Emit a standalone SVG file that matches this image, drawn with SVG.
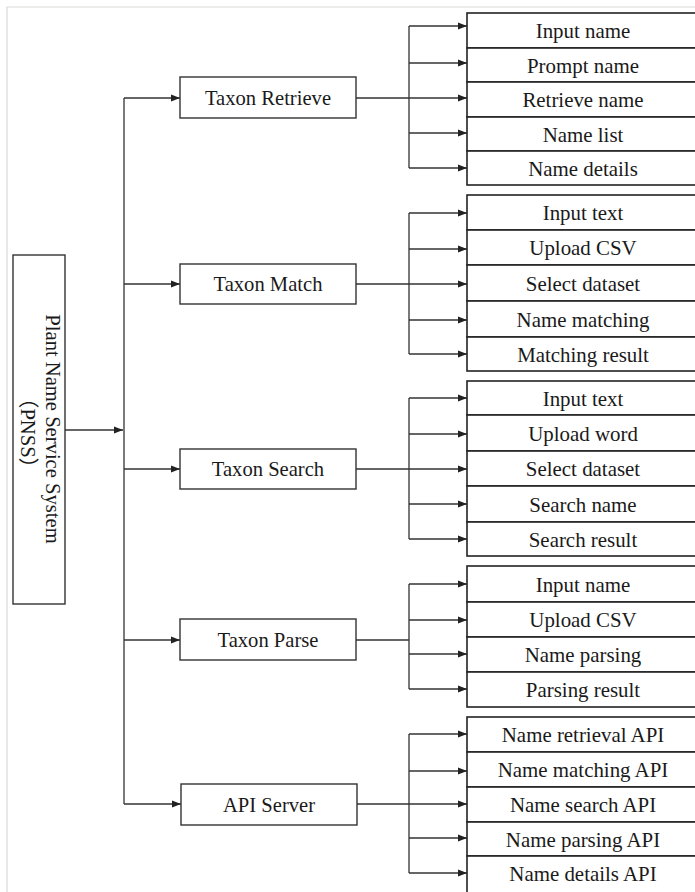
<svg xmlns="http://www.w3.org/2000/svg" width="695" height="892" viewBox="0 0 695 892">
<defs>
<marker id="ah" markerWidth="10" markerHeight="8" refX="9" refY="4" orient="auto" markerUnits="userSpaceOnUse">
<path d="M0,0.5 L9,4 L0,7.5 Z" fill="#222"/>
</marker>
<style>
.bx{fill:#fff;stroke:#333;stroke-width:1.4}
.sb{fill:#fff;stroke:#222;stroke-width:1.6}
.ln{fill:none;stroke:#333;stroke-width:1.3}
.ar{fill:none;stroke:#333;stroke-width:1.3;marker-end:url(#ah)}
.t1{font-family:"Liberation Serif","Times New Roman",serif;font-size:20.6px;fill:#1a1a1a;text-anchor:middle}
.t2{font-family:"Liberation Serif","Times New Roman",serif;font-size:20.9px;fill:#1a1a1a;text-anchor:middle}
.t3{font-family:"Liberation Serif","Noto Sans CJK SC",serif;font-size:20.6px;fill:#1a1a1a;text-anchor:middle}
</style>
</defs>
<rect width="695" height="892" fill="#fff"/>
<path d="M7,892 V7 H695" fill="none" stroke="#d9d9d6" stroke-width="1.2"/>

<g id="connectors">
<path class="ar" d="M65,430 H123"/>
<path class="ln" d="M124,98 V804"/>
<path class="ar" d="M124,98 H180"/>
<path class="ar" d="M124,284 H180"/>
<path class="ar" d="M124,469 H180"/>
<path class="ar" d="M124,640 H180"/>
<path class="ar" d="M124,804 H181"/>
<!-- group 1 -->
<path class="ln" d="M356,98 H409 M409,26 V168"/>
<path class="ar" d="M409,26 H467"/>
<path class="ar" d="M409,63 H467"/>
<path class="ar" d="M409,98 H467"/>
<path class="ar" d="M409,133 H467"/>
<path class="ar" d="M409,168 H467"/>
<!-- group 2 -->
<path class="ln" d="M356,284 H409 M409,213 V354"/>
<path class="ar" d="M409,213 H467"/>
<path class="ar" d="M409,249 H467"/>
<path class="ar" d="M409,284 H467"/>
<path class="ar" d="M409,320 H467"/>
<path class="ar" d="M409,354 H467"/>
<!-- group 3 -->
<path class="ln" d="M356,469 H409 M409,398 V539"/>
<path class="ar" d="M409,398 H467"/>
<path class="ar" d="M409,434 H467"/>
<path class="ar" d="M409,469 H467"/>
<path class="ar" d="M409,504 H467"/>
<path class="ar" d="M409,539 H467"/>
<!-- group 4 -->
<path class="ln" d="M356,640 H409 M409,584 V689"/>
<path class="ar" d="M409,584 H467"/>
<path class="ar" d="M409,620 H467"/>
<path class="ar" d="M409,654 H467"/>
<path class="ar" d="M409,689 H467"/>
<!-- group 5 -->
<path class="ln" d="M357,804 H409 M409,734 V873"/>
<path class="ar" d="M409,734 H467"/>
<path class="ar" d="M409,771 H467"/>
<path class="ar" d="M409,804 H467"/>
<path class="ar" d="M409,838 H467"/>
<path class="ar" d="M409,873 H467"/>
</g>

<g id="pnss">
<rect class="bx" x="13" y="255" width="52" height="349"/>
<text class="t3" transform="translate(46,429) rotate(90)">Plant Name Service System</text>
<text class="t3" transform="translate(21,433) rotate(90)">（PNSS）</text>
</g>

<g id="taxon-retrieve"><rect class="bx" x="180" y="77" width="176" height="41"/><text class="t1" x="268" y="104.5">Taxon Retrieve</text></g>
<g id="taxon-match"><rect class="bx" x="180" y="264" width="176" height="40"/><text class="t1" x="268" y="290.5">Taxon Match</text></g>
<g id="taxon-search"><rect class="bx" x="180" y="449" width="176" height="40"/><text class="t1" x="268" y="475.5">Taxon Search</text></g>
<g id="taxon-parse"><rect class="bx" x="180" y="619" width="176" height="41"/><text class="t1" x="268" y="646.5">Taxon Parse</text></g>
<g id="api-server"><rect class="bx" x="181" y="784" width="176" height="41"/><text class="t1" x="269" y="811.5">API Server</text></g>

<g id="retrieve-items">
<g id="r1"><rect class="sb" x="467" y="13" width="240" height="35"/><text class="t2" x="583" y="37.5">Input name</text></g>
<g id="r2"><rect class="sb" x="467" y="48" width="240" height="34"/><text class="t2" x="583" y="72.5">Prompt name</text></g>
<g id="r3"><rect class="sb" x="467" y="82" width="240" height="35"/><text class="t2" x="583" y="106.5">Retrieve name</text></g>
<g id="r4"><rect class="sb" x="467" y="117" width="240" height="34"/><text class="t2" x="583" y="141.5">Name list</text></g>
<g id="r5"><rect class="sb" x="467" y="151" width="240" height="34"/><text class="t2" x="583" y="175.5">Name details</text></g>
</g>

<g id="match-items">
<g id="m1"><rect class="sb" x="467" y="195" width="240" height="35"/><text class="t2" x="583" y="219.5">Input text</text></g>
<g id="m2"><rect class="sb" x="467" y="230" width="240" height="35"/><text class="t2" x="583" y="254.5">Upload CSV</text></g>
<g id="m3"><rect class="sb" x="467" y="265" width="240" height="36"/><text class="t2" x="583" y="290.5">Select dataset</text></g>
<g id="m4"><rect class="sb" x="467" y="301" width="240" height="36"/><text class="t2" x="583" y="326.5">Name matching</text></g>
<g id="m5"><rect class="sb" x="467" y="337" width="240" height="34"/><text class="t2" x="583" y="361.5">Matching result</text></g>
</g>

<g id="search-items">
<g id="s1"><rect class="sb" x="467" y="381" width="240" height="34"/><text class="t2" x="583" y="405.5">Input text</text></g>
<g id="s2"><rect class="sb" x="467" y="415" width="240" height="36"/><text class="t2" x="583" y="440.5">Upload word</text></g>
<g id="s3"><rect class="sb" x="467" y="451" width="240" height="35"/><text class="t2" x="583" y="475.5">Select dataset</text></g>
<g id="s4"><rect class="sb" x="467" y="486" width="240" height="36"/><text class="t2" x="583" y="511.5">Search name</text></g>
<g id="s5"><rect class="sb" x="467" y="522" width="240" height="34"/><text class="t2" x="583" y="546.5">Search result</text></g>
</g>

<g id="parse-items">
<g id="p1"><rect class="sb" x="467" y="566" width="240" height="36"/><text class="t2" x="583" y="591.5">Input name</text></g>
<g id="p2"><rect class="sb" x="467" y="602" width="240" height="35"/><text class="t2" x="583" y="626.5">Upload CSV</text></g>
<g id="p3"><rect class="sb" x="467" y="637" width="240" height="35"/><text class="t2" x="583" y="661.5">Name parsing</text></g>
<g id="p4"><rect class="sb" x="467" y="672" width="240" height="35"/><text class="t2" x="583" y="696.5">Parsing result</text></g>
</g>

<g id="api-items">
<g id="a1"><rect class="sb" x="467" y="717" width="240" height="35"/><text class="t2" x="583" y="741.5">Name retrieval API</text></g>
<g id="a2"><rect class="sb" x="467" y="752" width="240" height="35"/><text class="t2" x="583" y="776.5">Name matching API</text></g>
<g id="a3"><rect class="sb" x="467" y="787" width="240" height="35"/><text class="t2" x="583" y="811.5">Name search API</text></g>
<g id="a4"><rect class="sb" x="467" y="822" width="240" height="34"/><text class="t2" x="583" y="846.5">Name parsing API</text></g>
<g id="a5"><rect class="sb" x="467" y="856" width="240" height="40"/><text class="t2" x="583" y="880.5">Name details API</text></g>
</g>
</svg>
